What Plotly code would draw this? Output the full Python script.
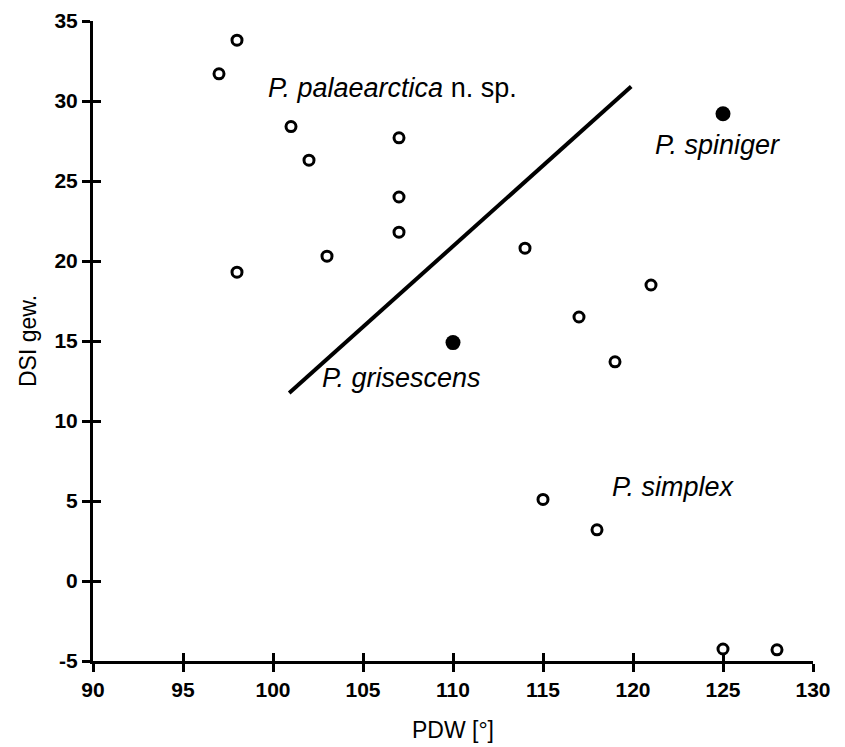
import plotly.graph_objects as go

# open circles
open_x = [97, 98, 101, 102, 107, 107, 107, 103, 98, 114, 117, 121, 119, 115, 118, 125, 128]
open_y = [31.7, 33.8, 28.4, 26.3, 27.7, 24.0, 21.8, 20.3, 19.3, 20.8, 16.5, 18.5, 13.7, 5.1, 3.2, -4.25, -4.3]
# filled circles
filled_x = [110, 125]
filled_y = [14.9, 29.2]
# separating line
line_x = [100.9, 119.9]
line_y = [11.75, 30.9]
# labels
label_text = ["<i>P. palaearctica</i> n. sp.", "<i>P. spiniger</i>", "<i>P. grisescens</i>", "<i>P. simplex</i>"]
label_x = [99.6, 121.1, 102.6, 118.7]
label_y = [30.8, 27.25, 12.7, 5.9]
# ticks
x_ticks = [90, 95, 100, 105, 110, 115, 120, 125, 130]
x_ticktext = ["90", "95", "100", "105", "110", "115", "120", "125", "130"]
y_ticks = [-5, 0, 5, 10, 15, 20, 25, 30, 35]
y_ticktext = ["-5", "0", "5", "10", "15", "20", "25", "30", "35"]

FONT = "Liberation Sans, Arial, sans-serif"

fig = go.Figure()
fig.add_trace(go.Scatter(x=line_x, y=line_y, mode="lines",
                         line=dict(color="black", width=4), showlegend=False))
fig.add_trace(go.Scatter(x=open_x, y=open_y, mode="markers",
                         marker=dict(symbol="circle-open", size=10, color="black",
                                     line=dict(width=3, color="black")),
                         showlegend=False, cliponaxis=False))
fig.add_trace(go.Scatter(x=filled_x, y=filled_y, mode="markers",
                         marker=dict(symbol="circle", size=15, color="black"),
                         showlegend=False))

for t, x, y in zip(label_text, label_x, label_y):
    fig.add_annotation(x=x, y=y, text=t, showarrow=False, xanchor="left", yanchor="middle",
                       font=dict(family=FONT, size=27, color="black"))

tickfont = dict(family=FONT, size=21, color="black", weight="bold")

fig.update_layout(
    width=845, height=747, paper_bgcolor="white", plot_bgcolor="white",
    margin=dict(l=85, r=40, t=13, b=94),
    xaxis=dict(range=[90, 130], tickvals=x_ticks, ticktext=x_ticktext,
               showgrid=False, zeroline=False, showline=True, linecolor="black", linewidth=3,
               ticks="outside", ticklen=8, tickwidth=3, tickcolor="black",
               tickfont=tickfont, automargin=False,
               title=dict(text="PDW [°]", font=dict(family=FONT, size=23, color="black"), standoff=22)),
    yaxis=dict(range=[-5, 35], tickvals=y_ticks, ticktext=y_ticktext,
               showgrid=False, zeroline=False, showline=True, linecolor="black", linewidth=3,
               ticks="outside", ticklen=8, tickwidth=3, tickcolor="black",
               tickfont=tickfont, automargin=False,
               title=dict(text="DSI gew.", font=dict(family=FONT, size=23, color="black"), standoff=12)),
    xaxis2=dict(range=[90, 130], tickvals=x_ticks, overlaying="x", side="bottom",
                showgrid=False, zeroline=False, showline=False, showticklabels=False,
                ticks="inside", ticklen=8, tickwidth=3, tickcolor="black", automargin=False),
    yaxis2=dict(range=[-5, 35], tickvals=y_ticks, overlaying="y", side="left",
                showgrid=False, zeroline=False, showline=False, showticklabels=False,
                ticks="inside", ticklen=8, tickwidth=3, tickcolor="black", automargin=False),
)
# invisible trace to activate the secondary axes carrying the inner tick halves
fig.add_trace(go.Scatter(x=[None], y=[None], xaxis="x2", yaxis="y2", showlegend=False, hoverinfo="skip"))

fig.write_html("out.html")
